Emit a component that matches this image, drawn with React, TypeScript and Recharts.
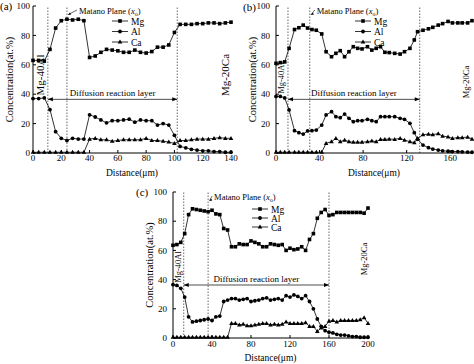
import React from "react";
import { LineChart, Line, XAxis, YAxis, ReferenceLine, Legend } from "recharts";

const FONT = '"Liberation Serif", "DejaVu Serif", serif';

// (a) Mg-40Al / Mg-20Ca, 0-140 um
const distA = [0, 4, 8, 12, 16, 20, 24, 28, 32, 36, 40, 44, 48, 52, 56, 60, 64, 68, 72, 76, 80, 84, 88, 92, 96, 100, 104, 108, 112, 116, 120, 124, 128, 132, 136, 140];
const mgA = [63, 63, 62.5, 70.5, 85, 90, 91, 90.5, 91, 90, 65, 66, 68.5, 70.5, 70, 69.5, 68.5, 68.5, 70, 68.5, 68, 69, 72, 72, 73.5, 82, 87.5, 87.5, 87.5, 88, 88, 88.5, 88.5, 88, 88.5, 89];
const alA = [37, 37, 37.5, 29.5, 14.5, 10, 8.5, 10, 9.5, 9.5, 26, 24.5, 22.5, 20.5, 22, 22, 22.5, 23, 21, 22.5, 22, 22, 19, 20, 19, 12, 4.5, 3.5, 2.5, 2, 1.5, 1.5, 1, 1, 0.5, 0.5];
const caA = [0.5, 0.5, 0.5, 0.5, 0.5, 0.5, 0.5, 0.5, 0.5, 0.5, 9.5, 10, 9, 9, 8, 8.5, 9, 9, 9, 9, 10, 8.5, 8.5, 8, 7.5, 6.5, 8.5, 8.5, 9, 9.5, 9.5, 9.5, 10, 10.5, 10, 10];

// (b)
const distB = [0, 4, 8, 12, 17, 21, 25, 29, 33, 37, 42, 46, 51, 55, 59, 63, 67, 71, 75, 79, 84, 88, 92, 96, 100, 104, 109, 114, 118, 123, 127, 130, 135, 140, 144, 149, 153, 158, 162, 167, 171, 176, 180];
const mgB = [61, 61.5, 62, 71.2, 84, 85.2, 87, 85, 84, 83.5, 81, 68.9, 65.5, 67.8, 69.6, 65.5, 68.9, 72.3, 71.2, 70.8, 72.3, 70, 71.2, 72.3, 68.5, 68.3, 67.8, 67.3, 68.9, 71.2, 76.9, 82.5, 83.5, 84.5, 85.5, 87, 88, 89.5, 88.5, 88.5, 88.5, 88.5, 90];
const alB = [38.5, 38.5, 37.5, 29.3, 15.2, 13.8, 12.9, 15, 15.2, 15.6, 19, 25.9, 28.1, 24.7, 24, 26.5, 23.6, 21.3, 22, 22, 22.9, 22, 21.3, 24.7, 24.7, 24.7, 24.7, 23.6, 22.9, 20.2, 13.8, 9.3, 5.4, 3.6, 2.7, 2, 1.5, 1.2, 1, 1, 0.8, 0.6, 0.5];
const caB = [0.5, 0.5, 0.5, 0.5, 0.5, 0.5, 0.5, 0.5, 0.5, 0.5, 0.5, 6.6, 7.7, 10, 7.7, 8.8, 7.7, 7.3, 7.3, 7.3, 7.7, 8.2, 7.7, 9.3, 9.3, 9.5, 9.3, 10, 8.8, 7.7, 7, 10, 12.5, 12.8, 12.5, 13.2, 11.5, 11, 10, 10.5, 10.5, 10.8, 9.5];

// (c)
const distC = [0, 4, 8, 12, 16, 20, 24, 28, 32, 36, 40, 44, 48, 52, 56, 60, 64, 68, 72, 76, 80, 84, 88, 92, 96, 100, 104, 108, 112, 116, 120, 124, 128, 132, 136, 140, 144, 148, 152, 156, 160, 164, 168, 172, 176, 180, 184, 188, 192, 196, 200];
const mgC = [63.5, 64, 65.5, 71.5, 84.5, 88.5, 88, 87.5, 87, 86.5, 87.5, 85, 84.5, 75, 74, 62.5, 62.5, 64.5, 64, 64, 66.5, 65.5, 64.5, 62.5, 62.5, 64.5, 64, 63.5, 64, 60, 61.5, 60.5, 61, 62.5, 60, 67.5, 71.5, 82, 86, 88, 84, 84.5, 86, 86, 86, 86, 86, 86, 86, 85.5, 89];
const alC = [36.5, 36, 34, 28, 14.5, 11, 11.5, 12, 12.5, 13, 12, 14.5, 15, 25, 26, 27, 27, 26, 26.5, 27, 25, 25.5, 26, 27, 27.5, 26, 26.5, 27, 26, 29, 28, 29.5, 28.5, 27, 29, 25, 20, 13, 8, 5, 4, 3.5, 2.5, 2, 2, 1.5, 1, 1, 0.5, 0.5, 0.5];
const caC = [0.5, 0.5, 0.5, 0.5, 0.5, 0.5, 0.5, 0.5, 0.5, 0.5, 0.5, 0.5, 0.5, 0.5, 0.5, 10, 10, 9, 9.5, 8.5, 8.5, 9, 9.5, 10, 10, 9, 9.5, 9, 9.5, 11, 10, 10, 10, 10, 10.5, 8, 8, 4.5, 7, 8, 11.5, 12, 11, 12, 12, 12, 12, 12, 12.5, 14, 10];

const yTicks = [0, 20, 40, 60, 80, 100];
const series = ["Mg", "Al", "Ca"];

const square = (cx: number, cy: number, key: string) => (
  <rect key={key} x={cx - 1.8} y={cy - 1.8} width={3.6} height={3.6} fill="#000" />
);
const circle = (cx: number, cy: number, key: string) => (
  <circle key={key} cx={cx} cy={cy} r={1.9} fill="#000" />
);
const triangle = (cx: number, cy: number, key: string) => (
  <path key={key} d={`M${cx},${cy - 2.4}L${cx + 2.3},${cy + 1.6}L${cx - 2.3},${cy + 1.6}Z`} fill="#000" />
);
const markers: Record<string, typeof square> = { Mg: square, Al: circle, Ca: triangle };

const makeLegend = (gap: number) => () => (
  <svg width={40} height={gap * 2 + 10} style={{ display: "block" }}>
    {series.map((name, i) => {
      const y = 5 + i * gap;
      return (
        <g key={name}>
          <line x1={2} y1={y} x2={18} y2={y} stroke="#000" strokeWidth={0.8} />
          {markers[name](10, y, "lg" + name)}
          <text x={21} y={y + 3.5} fontSize={9.5} fontFamily={FONT} fill="#000">
            {name}
          </text>
        </g>
      );
    })}
  </svg>
);

const matanoLabel = (dx: number) => (props: any) => {
  const { x, y } = props.viewBox;
  return (
    <g>
      <line x1={x + dx - 2} y1={y + 4} x2={x + 1.5} y2={y + 8.5} stroke="#000" strokeWidth={0.6} />
      <path d={`M${x + 1},${y + 9}l3.2,-0.4l-1.2,-2z`} fill="#000" />
      <text x={x + dx} y={y + 7.5} fontSize={8.5} fontFamily={FONT} fill="#000">
        Matano Plane (<tspan fontStyle="italic">x</tspan>
        <tspan fontSize={6} dy={2}>o</tspan>
        <tspan dy={-2}>)</tspan>
      </text>
    </g>
  );
};

const arrowShape = (p: any) => {
  const { x1, y1, x2, y2 } = p;
  return (
    <g>
      <line x1={x1} y1={y1} x2={x2} y2={y2} stroke="#000" strokeWidth={0.7} />
      <path d={`M${x1},${y1}l5,-2v4z`} fill="#000" />
      <path d={`M${x2},${y2}l-5,-2v4z`} fill="#000" />
    </g>
  );
};

interface PanelProps {
  left: number;
  top: number;
  width: number;
  height: number;
  right: number;
  yW: number;
  xH: number;
  xMax: number;
  xTicks: number[];
  yTickMargin: number;
  xTickMargin: number;
  yLabelOffset: number;
  distLabelOffset: number;
  dist: number[];
  mg: number[];
  al: number[];
  ca: number[];
  lines: number[];
  arrowY: number;
  matanoDx: number;
  legendLeft: number;
  legendTop: number;
  legendGap: number;
}

const tickStyle = { fill: "#000", fontSize: 9, fontFamily: FONT };

const Panel: React.FC<PanelProps> = (p) => {
  const rows = p.dist.map((d, i) => ({ d, mg: p.mg[i], al: p.al[i], ca: p.ca[i] }));
  return (
    <div style={{ position: "absolute", left: p.left, top: p.top }}>
      <LineChart width={p.width} height={p.height} data={rows} margin={{ top: 6, right: p.right, left: 0, bottom: 0 }}>
        <XAxis
          dataKey="d"
          type="number"
          domain={[0, p.xMax]}
          ticks={p.xTicks}
          height={p.xH}
          stroke="#000"
          tickSize={-3}
          tickMargin={p.xTickMargin}
          tick={tickStyle}
          label={{ value: "Distance(μm)", position: "insideBottom", offset: p.distLabelOffset, fontSize: 9.5, fill: "#000", fontFamily: FONT }}
        />
        <XAxis xAxisId="top" orientation="top" dataKey="d" type="number" domain={[0, p.xMax]} height={0} tick={false} tickLine={false} stroke="#000" />
        <YAxis
          domain={[0, 100]}
          ticks={yTicks}
          width={p.yW}
          stroke="#000"
          tickSize={-3}
          tickMargin={p.yTickMargin}
          tick={tickStyle}
          label={{ value: "Concentration(at.%)", angle: -90, position: "insideLeft", offset: p.yLabelOffset, fontSize: 10.5, fill: "#000", fontFamily: FONT, style: { textAnchor: "middle" } }}
        />
        <YAxis yAxisId="right" orientation="right" domain={[0, 100]} width={0} tick={false} tickLine={false} stroke="#000" />
        <ReferenceLine x={p.lines[0]} stroke="#000" strokeWidth={0.6} strokeDasharray="1.5 1.5" />
        <ReferenceLine x={p.lines[1]} stroke="#000" strokeWidth={0.6} strokeDasharray="1.5 1.5" label={matanoLabel(p.matanoDx)} />
        <ReferenceLine x={p.lines[2]} stroke="#000" strokeWidth={0.6} strokeDasharray="1.5 1.5" />
        <ReferenceLine
          segment={[{ x: p.lines[0], y: p.arrowY }, { x: p.lines[2], y: p.arrowY }]}
          shape={arrowShape}
          label={{ value: "Diffusion reaction layer", position: "top", offset: 3, fontSize: 9, fill: "#000", fontFamily: FONT }}
        />
        <Line dataKey="mg" name="Mg" stroke="#000" strokeWidth={0.8} isAnimationActive={false} dot={(d: any) => square(d.cx, d.cy, "mg" + d.index)} />
        <Line dataKey="al" name="Al" stroke="#000" strokeWidth={0.8} isAnimationActive={false} dot={(d: any) => circle(d.cx, d.cy, "al" + d.index)} />
        <Line dataKey="ca" name="Ca" stroke="#000" strokeWidth={0.8} isAnimationActive={false} dot={(d: any) => triangle(d.cx, d.cy, "ca" + d.index)} />
        <Legend
          layout="vertical"
          align="center"
          verticalAlign="middle"
          content={makeLegend(p.legendGap)}
          wrapperStyle={{ position: "absolute", left: p.legendLeft, top: p.legendTop, width: 40 }}
        />
      </LineChart>
    </div>
  );
};

const VText = ({ x, y, size, children }: { x: number; y: number; size: number; children: string }) => (
  <text transform={`translate(${x},${y}) rotate(-90)`} textAnchor="middle" dominantBaseline="central" fontSize={size} fontFamily={FONT} fill="#000">
    {children}
  </text>
);

const App: React.FC = () => (
  <div style={{ position: "absolute", left: 0, top: 0, width: 474, height: 364, background: "#fff", overflow: "hidden" }}>
    <Panel
      left={0} top={0} width={240} height={180} right={9} yW={33} xH={27} xMax={140}
      xTicks={[0, 20, 40, 60, 80, 100, 120, 140]} yTickMargin={6} xTickMargin={5} yLabelOffset={9} distLabelOffset={4}
      dist={distA} mg={mgA} al={alA} ca={caA} lines={[10.5, 24, 102]} arrowY={36.5} matanoDx={12}
      legendLeft={110} legendTop={16} legendGap={10.5}
    />
    <Panel
      left={237} top={0} width={237} height={180} right={2} yW={39} xH={27} xMax={180}
      xTicks={[0, 40, 80, 120, 160]} yTickMargin={9} xTickMargin={5} yLabelOffset={15} distLabelOffset={4}
      dist={distB} mg={mgB} al={alB} ca={caB} lines={[11, 31, 132]} arrowY={36.5} matanoDx={7}
      legendLeft={116} legendTop={16} legendGap={10.5}
    />
    <Panel
      left={130} top={186} width={245} height={178} right={7} yW={43} xH={26} xMax={200}
      xTicks={[0, 40, 80, 120, 160, 200]} yTickMargin={9} xTickMargin={6} yLabelOffset={19} distLabelOffset={3}
      dist={distC} mg={mgC} al={alC} ca={caC} lines={[11, 36, 160]} arrowY={36.3} matanoDx={6}
      legendLeft={120} legendTop={18} legendGap={9}
    />
    <svg width={474} height={364} style={{ position: "absolute", left: 0, top: 0, pointerEvents: "none" }}>
      <text x={0} y={10} fontSize={11} fontFamily={FONT} fill="#000">(a)</text>
      <text x={243} y={11} fontSize={11} fontFamily={FONT} fill="#000">(b)</text>
      <text x={136} y={196} fontSize={11} fontFamily={FONT} fill="#000">(c)</text>
      <VText x={40} y={75} size={11}>Mg-40Al</VText>
      <VText x={225} y={75} size={11}>Mg-20Ca</VText>
      <VText x={281} y={78} size={8.5}>Mg-40Al</VText>
      <VText x={466} y={82} size={8.5}>Mg-20Ca</VText>
      <VText x={178} y={267} size={8.5}>Mg-40Al</VText>
      <VText x={364} y={259} size={8.5}>Mg-20Ca</VText>
    </svg>
  </div>
);

export default App;
